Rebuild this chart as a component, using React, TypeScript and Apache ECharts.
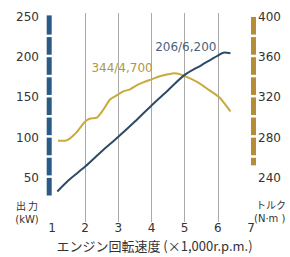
import React, { useEffect, useRef } from "react";
import * as echarts from "echarts";

const rpmTicks = [1, 2, 3, 4, 5, 6, 7];
const powerTicks = [50, 100, 150, 200, 250];
const torqueTicks = [240, 280, 320, 360, 400];

const powerRpm = [1.16, 1.5, 2.0, 2.5, 3.0, 3.5, 4.0, 4.5, 5.0, 5.5, 6.0, 6.2, 6.38];
const powerKw = [33, 47, 64, 83, 101, 120, 140, 159, 178, 190, 202, 206, 205];

const torqueRpm = [1.18, 1.4, 1.7, 2.0, 2.15, 2.35, 2.55, 2.75, 2.95, 3.15, 3.35, 3.55, 3.75, 4.0, 4.25, 4.5, 4.7, 4.95, 5.4, 5.75, 6.05, 6.2, 6.38];
const torqueNm = [277, 277, 284, 296, 299, 300, 308, 318, 322, 326, 328, 332, 335, 338, 341, 343, 344, 342, 335, 327, 320, 314, 306];

const powerPeak = [6.2, 206];
const torquePeak = [4.7, 344];
const powerPeakLabel = "206/6,200";
const torquePeakLabel = "344/4,700";

const powerBarBreaks = [25, 50, 75, 100, 125, 150, 175, 200, 225, 252];
const torqueBarBreaks = [250, 260, 280, 300, 320, 340, 360, 380, 400];

const BLUE_BAR = "#2c5a86";
const GOLD_BAR = "#b68d37";
const BLUE_LINE = "#2d4a66";
const GOLD_LINE = "#c9aa3e";
const FONT = "DejaVu Sans";

export default function App() {
  const ref = useRef<HTMLDivElement>(null);
  useEffect(() => {
    const chart = echarts.init(ref.current!, null, { renderer: "svg" });
    chart.setOption({
      animation: false,
      backgroundColor: "#ffffff",
      grid: [
        { left: 52, right: 39, top: 17, bottom: 37 },
        { left: 52, right: 39, top: 13, bottom: 35 },
      ],
      xAxis: [
        {
          type: "value",
          gridIndex: 0,
          min: rpmTicks[0],
          max: rpmTicks[rpmTicks.length - 1],
          interval: 1,
          axisLine: { show: false },
          axisTick: { show: false },
          splitLine: { show: false },
          axisLabel: { margin: 4, fontSize: 12, color: "#333", fontFamily: FONT },
          name: "エンジン回転速度 (×1,000r.p.m.)",
          nameLocation: "middle",
          nameGap: 20,
          nameTextStyle: { fontSize: 13, color: "#333", fontFamily: "Noto Sans CJK JP", padding: [0, 0, 0, 6] },
        },
        {
          type: "value",
          gridIndex: 1,
          min: rpmTicks[0],
          max: rpmTicks[rpmTicks.length - 1],
          interval: 1,
          axisLine: { show: false },
          axisTick: { show: false },
          axisLabel: { show: false },
          splitLine: { show: true, showMinLine: false, showMaxLine: false, lineStyle: { color: "#a9a9a9", width: 1 } },
        },
      ],
      yAxis: [
        {
          type: "value",
          gridIndex: 0,
          position: "left",
          min: 0,
          max: powerTicks[powerTicks.length - 1],
          interval: 50,
          axisLine: { show: false },
          axisTick: { show: false },
          splitLine: { show: false },
          axisLabel: { margin: 13, showMinLabel: false, fontSize: 12, color: "#333", fontFamily: FONT },
        },
        {
          type: "value",
          gridIndex: 0,
          position: "right",
          min: 200,
          max: torqueTicks[torqueTicks.length - 1],
          interval: 40,
          axisLine: { show: false },
          axisTick: { show: false },
          splitLine: { show: false },
          axisLabel: { margin: 7, showMinLabel: false, fontSize: 12, color: "#333", fontFamily: FONT },
        },
        {
          type: "value",
          gridIndex: 1,
          show: false,
          min: 0,
          max: 1,
        },
      ],
      series: [
        {
          type: "line",
          xAxisIndex: 0,
          yAxisIndex: 1,
          data: torqueRpm.map((r, i) => [r, torqueNm[i]]),
          smooth: 0.3,
          showSymbol: false,
          lineStyle: { color: GOLD_LINE, width: 2 },
          markPoint: {
            symbol: "circle",
            symbolSize: 0,
            data: [{ coord: torquePeak }],
            label: {
              show: true,
              formatter: torquePeakLabel,
              position: "left",
              distance: 22,
              offset: [0, -5],
              fontSize: 12,
              color: "#ad9848",
              fontFamily: FONT,
            },
          },
        },
        {
          type: "line",
          xAxisIndex: 0,
          yAxisIndex: 0,
          data: powerRpm.map((r, i) => [r, powerKw[i]]),
          smooth: 0.3,
          showSymbol: false,
          lineStyle: { color: BLUE_LINE, width: 2 },
          markPoint: {
            symbol: "circle",
            symbolSize: 0,
            data: [{ coord: powerPeak }],
            label: {
              show: true,
              formatter: powerPeakLabel,
              position: "left",
              distance: 8,
              offset: [0, -5],
              fontSize: 12,
              color: "#4a6379",
              fontFamily: FONT,
            },
          },
        },
      ],
    });

    const yL = (v: number) => chart.convertToPixel({ yAxisIndex: 0 }, v) as number;
    const yR = (v: number) => chart.convertToPixel({ yAxisIndex: 1 }, v) as number;
    const xP = (v: number) => chart.convertToPixel({ xAxisIndex: 0 }, v) as number;
    const x1 = xP(rpmTicks[0]);
    const x7 = xP(rpmTicks[rpmTicks.length - 1]);
    const gap = 2.5;
    const graphics: any[] = [];
    for (let i = 0; i < powerBarBreaks.length - 1; i++) {
      const top = yL(powerBarBreaks[i + 1]);
      const bot = yL(powerBarBreaks[i]);
      graphics.push({
        type: "rect",
        shape: { x: x1 - 5.3, y: top, width: 5, height: bot - top - gap },
        style: { fill: BLUE_BAR },
        silent: true,
      });
    }
    for (let i = 0; i < torqueBarBreaks.length - 1; i++) {
      const top = yR(torqueBarBreaks[i + 1]);
      const bot = yR(torqueBarBreaks[i]);
      graphics.push({
        type: "rect",
        shape: { x: x7, y: top, width: 5, height: bot - top - gap },
        style: { fill: GOLD_BAR },
        silent: true,
      });
    }
    const txt = (text: string, x: number, y: number, align: string, family: string) => ({
      type: "text",
      x,
      y,
      silent: true,
      style: {
        text,
        fill: "#333",
        fontSize: 10,
        fontFamily: family,
        textAlign: align,
        textVerticalAlign: "middle",
      },
    });
    const CJK = "Noto Sans CJK JP";
    graphics.push(txt("出 力", 27, 205.5, "center", CJK));
    graphics.push(txt("(kW)", 27, 219, "center", FONT));
    graphics.push(txt("トルク", 256, 204.5, "left", CJK));
    graphics.push(txt("(N·m )", 254, 218, "left", FONT));
    chart.setOption({ graphic: graphics });

    return () => chart.dispose();
  }, []);
  return <div ref={ref} style={{ position: "fixed", left: 0, top: 0, width: 290, height: 257 }} />;
}
